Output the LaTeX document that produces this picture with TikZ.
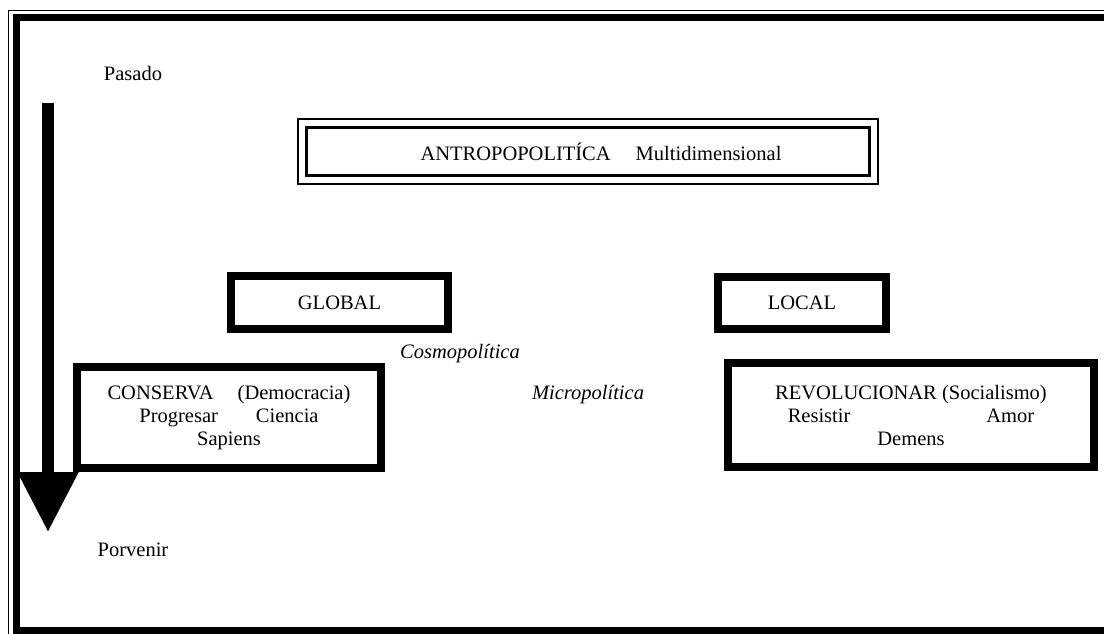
\documentclass[tikz,border=0pt]{standalone}
\usepackage{fontspec}
\setmainfont{Liberation Serif}
\usetikzlibrary{arrows.meta}

\begin{document}
\begin{tikzpicture}[x=1pt, y=-1pt,
    every node/.style={font=\fontsize{20.5}{23}\selectfont, inner sep=0pt},
    heavybox/.style={draw, line width=8pt, align=center}]
    \useasboundingbox (0,0) rectangle (1104,633);

    % Draw the page frame
    \draw[line width=1.5pt] (8.5,10.5) rectangle (1140,660);
    \draw[line width=7pt] (16.5,17.5) rectangle (1130,630.5);

    % Draw the time arrow
    \node (pasado) at (133,73) {Pasado};
    \node (porvenir) at (133,550) {Porvenir};
    \coordinate (inicio) at (48,103);
    \coordinate (fin) at (48,532);
    \draw[line width=12pt, -{Triangle[width=58pt,length=60pt]}] (inicio) -- (fin);

    % Draw the top box
    \node[draw, line width=3pt, minimum width=563pt, minimum height=48pt] (antropo) at (588,151.5) {};
    \draw[line width=1.5pt] ([xshift=-7pt,yshift=7pt]antropo.north west) rectangle ([xshift=7pt,yshift=-7pt]antropo.south east);
    \node (antrotexto) at (601,152) {ANTROPOPOLITÍCA\hspace{25pt}Multidimensional};

    % Draw the global and local boxes
    \node[heavybox, minimum width=217pt, minimum height=53pt] (global) at (339.5,302.5) {GLOBAL};
    \node[heavybox, minimum width=168pt, minimum height=52pt] (local) at (802,303) {LOCAL};

    % Label the two policies
    \node[font=\fontsize{20.5}{23}\selectfont\itshape] (cosmo) at (460,354) {Cosmopolítica};
    \node[font=\fontsize{20.5}{23}\selectfont\itshape] (micro) at (588,395) {Micropolítica};

    % Draw the lower boxes
    \node[heavybox, minimum width=304pt, minimum height=101pt] (conserva) at (229,417.5)
        {CONSERVA\hspace{24pt}(Democracia)\\Progresar\hspace{38pt}Ciencia\\Sapiens};
    \node[heavybox, minimum width=366pt, minimum height=104pt] (revolucion) at (911,415)
        {REVOLUCIONAR (Socialismo)\\Resistir\hspace{136pt}Amor\\Demens};
\end{tikzpicture}
\end{document}
